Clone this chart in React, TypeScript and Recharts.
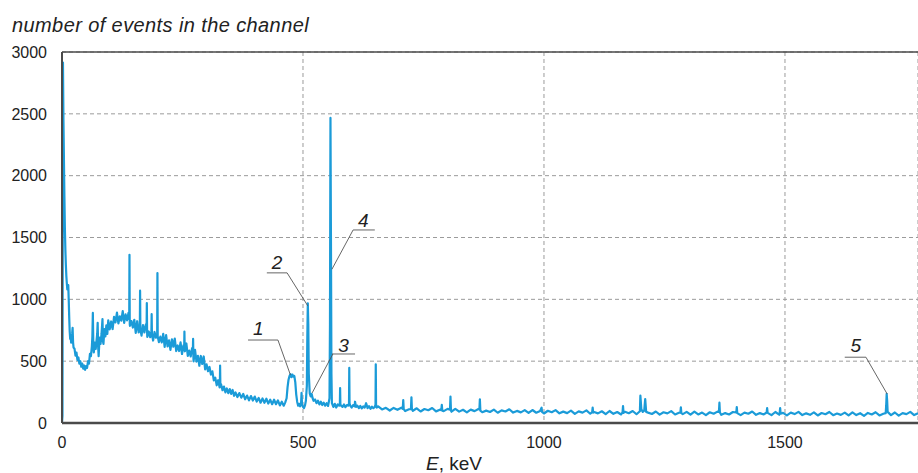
import React from 'react';
import { LineChart, Line, XAxis, YAxis, CartesianGrid, ReferenceLine, ReferenceDot } from 'recharts';

const FONT = '"Liberation Sans", Arial, Helvetica, sans-serif';
const LINE_COLOR = '#1b9bd8';
const TEXT_COLOR = '#222222';

const xTicks = [0, 500, 1000, 1500];
const yTicks = [0, 500, 1000, 1500, 2000, 2500, 3000];
const xDomain = [0, 1776];
const yDomain = [0, 3000];

// [E (keV), number of events]
const lowEnergyRegion: [number, number][] = [
  [0, 0], [1, 60], [2, 2915], [3, 2450], [4, 2130], [5, 1830], [6, 1570], [7, 1400], [8, 1280], [9, 1190],
  [10, 1130], [11, 1080], [12, 1105], [13, 1115], [14, 990], [15, 850], [16, 740], [17, 680], [18, 700], [19, 650],
  [20, 690], [21, 720], [22, 770], [23, 650], [24, 610], [26, 600], [28, 545], [30, 570], [32, 510], [34, 530],
  [36, 480], [38, 500], [40, 455], [42, 480], [44, 440], [46, 465], [48, 430], [50, 460], [52, 445], [54, 500],
  [56, 480], [58, 560], [60, 540], [62, 620], [63, 700], [64, 890], [65, 640], [66, 570], [68, 650], [70, 600],
  [72, 680], [73, 720], [74, 810], [75, 620], [76, 540], [78, 690], [80, 640], [82, 720], [83, 780], [84, 840],
  [85, 660], [86, 640], [88, 760], [90, 700], [92, 790], [94, 720],
];

const comptonRegion: [number, number][] = [
  [96, 830], [99, 757], [102, 821], [105, 760], [108, 859], [111, 813], [114, 892], [117, 805], [120, 863], [123, 827],
  [126, 904], [129, 810], [132, 878], [135, 830], [138, 891], [139.5, 840], [140, 1360], [140.6, 800], [141, 786], [144, 824],
  [147, 772], [150, 835], [153, 729], [156, 823], [159, 732], [161.5, 770], [162, 1070], [162.6, 760], [165, 707], [168, 792],
  [171, 732], [174, 797], [175.5, 760], [176, 970], [176.6, 730], [177, 696], [180, 740], [183, 694], [185.5, 740], [186, 880],
  [186.6, 720], [189, 667], [192, 736], [195, 690], [197.5, 720], [198, 1213], [198.6, 700], [201, 654], [204, 698], [207, 652],
  [210, 721], [213, 616], [216, 710], [219, 619], [222, 668], [225, 592], [228, 677], [231, 617], [234, 683], [237, 582],
  [240, 627], [243, 582], [246, 652], [249, 558], [252, 627], [253.5, 600], [254, 739], [254.6, 590], [255, 580], [258, 643],
  [261, 542], [264, 585], [267, 538], [270, 606], [271.5, 570], [272, 680], [272.6, 540], [273, 499], [276, 592], [279, 497],
  [282, 543], [285, 463], [288, 542], [291, 477], [294, 538], [297, 433], [300, 474],
];

const annihilationRegion: [number, number][] = [
  [303, 419], [306, 453], [309, 392], [312, 418], [315, 345], [318, 367], [321, 305], [324, 346], [327, 288], [327.6, 320],
  [328, 464], [328.6, 300], [330, 314], [333, 265], [336, 295], [339, 248], [342, 279], [345, 241], [348, 274], [351, 235],
  [354, 267], [357, 220], [360, 247], [364, 210], [368, 242], [372, 205], [376, 235], [380, 192], [384, 222], [388, 183],
  [392, 218], [396, 182], [400, 214], [404, 173], [408, 203], [412, 164], [416, 199], [420, 163], [424, 196], [428, 157],
  [432, 188], [436, 152], [440, 188], [444, 152], [448, 183], [452, 142], [456, 172], [460, 140], [463, 165], [466, 200],
  [468, 290], [470, 350], [472, 380], [474, 395], [476, 370], [478, 392], [480, 375], [482, 380], [484, 330], [486, 230],
  [488, 170], [490, 140], [492, 155], [494, 135], [496, 160], [497, 243], [498, 150], [500, 130], [502, 120], [504, 140],
  [506, 180], [508, 300], [509, 700], [510, 968], [511, 800], [512, 400], [514, 240], [516, 215], [518, 235], [520, 200],
  [522, 180], [525, 190], [528, 160], [531, 180], [534, 150], [537, 172], [540, 145], [543, 165], [546, 140], [549, 160],
  [552, 138], [555, 200], [556, 800], [557, 2467], [558, 1500], [559, 400], [560, 160], [563, 130], [566, 155], [569, 125],
  [572, 150], [575, 140], [576.5, 150], [577, 283], [577.6, 150], [579, 140], [582, 130], [585, 150], [588, 128], [591, 145],
  [594, 140], [595.5, 160], [596, 445], [596.6, 160], [598, 140], [601, 125], [604, 145], [607, 135], [608, 172], [610, 130],
  [613, 140], [616, 120], [619, 138], [622, 118], [625, 135], [628, 125], [631, 160], [634, 120], [637, 136], [640, 115],
  [643, 132], [646, 120], [649, 130], [650.5, 150], [651, 475], [651.6, 150], [653, 125],
];

const tailRegion: [number, number][] = [
  [656, 134], [664, 110], [672, 123], [680, 101], [688, 122], [696, 107], [704, 124], [707, 115], [708, 186], [709, 112],
  [712, 97], [720, 111], [724, 112], [725, 208], [726, 110], [728, 99], [736, 119], [744, 93], [752, 113], [760, 103],
  [768, 121], [776, 94], [784, 108], [787, 104], [788, 146], [789, 100], [792, 96], [800, 114], [805, 108], [806, 213],
  [807, 102], [808, 91], [816, 115], [824, 92], [832, 107], [840, 86], [848, 108], [856, 96], [864, 113], [866, 110],
  [867, 192], [868, 100], [872, 87], [880, 100], [888, 89], [896, 108], [904, 83], [912, 102], [920, 93], [928, 111],
  [936, 84], [944, 98], [952, 86], [960, 104], [968, 81], [976, 105], [984, 83], [992, 97], [995, 124], [996, 90],
  [1000, 77], [1008, 99], [1016, 87], [1024, 104], [1032, 78], [1040, 92], [1048, 80], [1056, 100], [1064, 74], [1072, 94],
  [1080, 84], [1088, 102], [1096, 75], [1100, 88], [1101, 124], [1102, 84], [1104, 89], [1112, 78], [1120, 95], [1128, 72],
  [1136, 97], [1144, 74], [1152, 89], [1160, 69], [1163, 86], [1164, 137], [1165, 82], [1168, 91], [1176, 79], [1184, 97],
  [1192, 71], [1199, 95], [1200, 221], [1202, 110], [1205, 90], [1208, 100], [1210, 194], [1212, 90], [1216, 84], [1224, 73],
  [1232, 93], [1240, 68], [1248, 87], [1256, 78], [1264, 96], [1272, 69], [1280, 83], [1283, 85], [1284, 127], [1285, 80],
  [1288, 72], [1296, 90], [1304, 67], [1312, 92], [1320, 69], [1328, 84], [1336, 64], [1344, 87], [1352, 75], [1360, 92],
  [1363, 90], [1364, 164], [1365, 85], [1368, 66], [1376, 80], [1384, 69], [1392, 89], [1399, 85], [1400, 129], [1401, 80],
  [1408, 64], [1416, 84], [1424, 75], [1432, 93], [1440, 66], [1448, 80], [1456, 69], [1462, 85], [1463, 121], [1464, 82],
  [1472, 64], [1480, 89], [1488, 67], [1489, 80], [1490, 121], [1491, 75], [1496, 82], [1504, 62], [1512, 84], [1520, 72],
  [1528, 90], [1536, 64], [1544, 78], [1552, 66], [1560, 86], [1568, 61], [1576, 81], [1584, 71], [1592, 89], [1600, 63],
  [1608, 77], [1616, 66], [1624, 84], [1632, 61], [1640, 86], [1648, 64], [1656, 79], [1664, 58], [1672, 81], [1680, 69],
  [1688, 87], [1696, 61], [1704, 75], [1709, 80], [1710, 140], [1711, 235], [1712, 180], [1713, 90], [1720, 64], [1728, 85],
  [1736, 60], [1744, 80], [1752, 72], [1760, 90], [1768, 64], [1776, 78],
];

// annotations (data coordinates)
const markerIds = ['1', '2', '3', '4', '5'];
const markerTextE = [407, 446, 584, 625, 1647];
const markerTextN = [769, 1302, 631, 1642, 631];
const markerBarFromE = [386, 425, 560, 604, 1624];
const markerBarToE = [448, 467, 608, 649, 1668];
const markerBarN = [671, 1214, 558, 1561, 532];
const markerLeadFromE = [448, 467, 562, 604, 1668];
const markerLeadToE = [474, 510, 519, 560, 1712];
const markerLeadToN = [388, 947, 243, 1243, 235];

const data = [...lowEnergyRegion, ...comptonRegion, ...annihilationRegion, ...tailRegion]
  .map(([e, n]) => ({ e, n }))
  .sort((a, b) => a.e - b.e);

const YTick = (props: any) => {
  const { x, y, payload } = props;
  return (
    <text x={x} y={y} dy="0.36em" textAnchor="end" fontSize={16} fill={TEXT_COLOR} fontFamily={FONT}>
      {payload.value}
    </text>
  );
};

const XTick = (props: any) => {
  const { x, y, payload } = props;
  return (
    <text x={x} y={y} dy="0.71em" textAnchor="middle" fontSize={16} fill={TEXT_COLOR} fontFamily={FONT}>
      {payload.value}
    </text>
  );
};

const XLabel = (props: any) => {
  const vb = props.viewBox || { x: 62, y: 423, width: 856, height: 30 };
  return (
    <text x={vb.x + vb.width * 0.458} y={470} textAnchor="middle" fontSize={19} fill={TEXT_COLOR} fontFamily={FONT}>
      <tspan fontStyle="italic">E</tspan>, keV
    </text>
  );
};

const YLabel = () => (
  <text x={12} y={31.5} textAnchor="start" fontSize={20} letterSpacing={0.4} fontStyle="italic" fill={TEXT_COLOR} fontFamily={FONT}>
    number of events in the channel
  </text>
);

const markerText = (id: string) => (p: any) => (
  <text x={p.cx} y={p.cy} dy="0.36em" textAnchor="middle" fontSize={19} fontStyle="italic" fill={TEXT_COLOR} fontFamily={FONT}>
    {id}
  </text>
);

export default function App() {
  return (
    <div style={{ position: 'absolute', left: 0, top: 0, width: 918, height: 473, background: '#fff' }}>
      <LineChart width={918} height={473} data={data} margin={{ top: 52, right: 0, bottom: 20, left: 0 }}>
        <CartesianGrid strokeDasharray="4 3" stroke="#9b9b9b" strokeWidth={1} />
        <XAxis
          dataKey="e"
          type="number"
          domain={xDomain}
          ticks={xTicks}
          allowDataOverflow
          height={30}
          tickSize={0}
          tickMargin={14}
          tick={<XTick />}
          axisLine={{ stroke: '#4a4a4a', strokeWidth: 2.5 }}
          label={<XLabel />}
        />
        <YAxis
          type="number"
          domain={yDomain}
          ticks={yTicks}
          allowDataOverflow
          width={62}
          tickSize={0}
          tickMargin={15}
          tick={<YTick />}
          axisLine={{ stroke: '#4a4a4a', strokeWidth: 2 }}
          label={<YLabel />}
        />
        <ReferenceLine y={3000} stroke="#4a4a4a" strokeWidth={1.5} />
        <Line
          type="linear"
          dataKey="n"
          stroke={LINE_COLOR}
          strokeWidth={2.2}
          strokeLinejoin="round"
          dot={false}
          isAnimationActive={false}
        />
        {markerIds.map((id, i) => (
          <ReferenceLine
            key={'bar' + id}
            segment={[{ x: markerBarFromE[i], y: markerBarN[i] }, { x: markerBarToE[i], y: markerBarN[i] }]}
            stroke="#555"
            strokeWidth={0.9}
          />
        ))}
        {markerIds.map((id, i) => (
          <ReferenceLine
            key={'lead' + id}
            segment={[{ x: markerLeadFromE[i], y: markerBarN[i] }, { x: markerLeadToE[i], y: markerLeadToN[i] }]}
            stroke="#555"
            strokeWidth={0.9}
          />
        ))}
        {markerIds.map((id, i) => (
          <ReferenceDot key={'txt' + id} x={markerTextE[i]} y={markerTextN[i]} r={0} shape={markerText(id)} />
        ))}
      </LineChart>
    </div>
  );
}
